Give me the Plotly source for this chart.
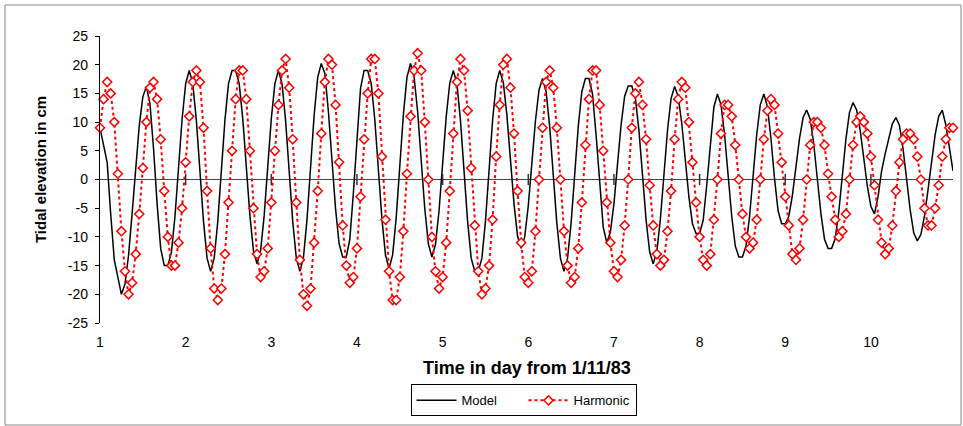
import plotly.graph_objects as go

# Hourly samples starting at day 1 (1/11/83 00:00)
harmonic = [
    9, 14, 17, 15, 10, 1, -9, -16, -20, -18, -13, -6, 2, 10, 16, 17, 14, 7, -2, -10, -15, -15, -11, -5, 3, 11,
    17, 19, 17, 9, -2, -12, -19, -21, -19, -13, -4, 5, 14, 19, 19, 14, 5, -5, -13, -17, -16, -12, -4, 5,
    13, 19, 21, 16, 7, -4, -14, -20, -22, -19, -11, -2, 8, 17, 21, 20, 13, 3, -8, -15, -18, -17, -12, -3,
    7, 15, 21, 21, 15, 4, -7, -16, -21, -21, -17, -9, 1, 11, 19, 22, 19, 10, 0, -10, -16, -19, -17, -11,
    -2, 8, 17, 21, 19, 12, 2, -8, -16, -20, -19, -15, -7, 4, 13, 20, 21, 16, 8, -2, -11, -17, -18, -16,
    -9, 0, 9, 17, 19, 16, 9, 0, -9, -15, -18, -17, -12, -4, 6, 14, 19, 19, 13, 5, -4, -11, -16, -17,
    -14, -8, 0, 9, 15, 17, 13, 7, -1, -8, -13, -15, -14, -9, -2, 7, 14, 17, 16, 10, 3, -4, -10, -14,
    -15, -13, -7, 0, 8, 13, 13, 11, 6, 0, -6, -10, -12, -11, -7, 0, 7, 12, 14, 13, 8, 3, -3, -8,
    -13, -14, -12, -7, 0, 6, 10, 10, 9, 6, 1, -3, -7, -10, -9, -6, 0, 6, 10, 11, 10, 8, 4, -1,
    -7, -11, -13, -12, -8, -2, 3, 7, 8, 8, 7, 4, 0, -5, -8, -8, -5, -1, 4, 7, 9, 9,
]

model = [
    9, 6, 3, -6, -14, -17, -20, -18.2, -13.2, -5.9, 2.1, 9.4, 14.4, 16.2, 13.2, 5.4, -4.2, -12, -15, -15, -12.7, -6.5, 2, 10.5, 16.7, 19,
    16.7, 10.3, 1.5, -7.3, -13.7, -16, -13.7, -7.3, 1.5, 10.3, 16.7, 19, 19, 16.7, 10.6, 2.15, -6.3, -12.4, -14.7, -12.4, -6.3, 2.15, 10.6, 16.7,
    19, 16.7, 10.3, 1.5, -7.3, -13.7, -16, -13.6, -7.0, 2.1, 11.2, 17.8, 20.2, 18.5, 11.8, 3.35, -5.1, -11.2, -13.5, -13.5, -10.4, -2.3, 7.8, 15.9,
    19, 19, 16.7, 10.4, 1.75, -6.9, -13.2, -15.5, -13.1, -6.6, 2.35, 11.3, 17.8, 20.2, 17.9, 11.8, 3.35, -5.1, -11.2, -13.5, -11.3, -5.4, 2.75, 10.9,
    16.8, 19, 16.7, 10.3, 1.5, -7.3, -13.7, -16, -16, -13.7, -7.3, 1.5, 10.3, 16.7, 19, 16.9, 11.25, 3.5, -4.25, -9.9, -12, -10, -4.6, 2.8,
    10.2, 15.6, 17.6, 15.3, 9.2, 0.8, -7.6, -13.7, -16, -13.7, -7.6, 0.8, 9.2, 15.3, 17.6, 17.6, 14.9, 7.7, -1.1, -8.3, -11, -9.2, -4.2, 2.65,
    9.5, 14.5, 16.3, 16.3, 14.2, 8.6, 0.8, -7, -12.6, -14.7, -12.6, -7, 0.75, 8.5, 14.1, 16.2, 14.5, 9.8, 3.4, -3, -7.7, -9.4, -9.4, -7.1,
    -1, 6.5, 12.6, 14.9, 13, 7.8, 0.7, -6.4, -11.6, -13.5, -13.5, -11.6, -6.4, 0.7, 7.8, 13, 14.9, 12.7, 7.1, 0.1, -5.5, -7.7, -7.7, -6.4,
    -2.75, 2.2, 7.15, 10.8, 12.1, 10.5, 6.1, 0.05, -6, -10.4, -12, -12, -10.3, -5.65, 0.7, 7.05, 11.7, 13.4, 12.1, 8.55, 3.7, -1.15, -4.7, -6,
    -3, 1.5, 4.5, 7, 9.7, 10.8, 9.4, 5.4, 0.05, -5.3, -9.3, -10.7, -9.6, -6.4, -1.8, 3.2, 7.8, 11, 12.1, 9.5, 5.5, 1.5,
]

days = [1 + i / 24 for i in range(len(harmonic))]

x_ticks = [1, 2, 3, 4, 5, 6, 7, 8, 9, 10]
y_ticks = [-25, -20, -15, -10, -5, 0, 5, 10, 15, 20, 25]

FONT = "Liberation Sans"

fig = go.Figure()

fig.add_trace(go.Scatter(
    x=days, y=model, mode="lines", name="Model",
    line=dict(color="black", width=1.5), cliponaxis=False,
))
fig.add_trace(go.Scatter(
    x=days, y=harmonic, mode="lines+markers", name="Harmonic",
    line=dict(color="red", width=2, dash="dot"),
    marker=dict(symbol="diamond", size=7, color="white", line=dict(color="red", width=1.5)),
    cliponaxis=False,
))
# cross tick marks on the zero line (category axis crossing at 0)
fig.add_trace(go.Scatter(
    x=x_ticks[1:], y=[0] * len(x_ticks[1:]), mode="markers", showlegend=False, hoverinfo="skip",
    marker=dict(symbol="line-ns", size=8, line=dict(color="#333", width=1.5)),
    cliponaxis=False,
))

fig.update_layout(
    width=963, height=426,
    margin=dict(l=100, r=10, t=36, b=103, autoexpand=False),
    paper_bgcolor="white", plot_bgcolor="white",
    font=dict(family=FONT, color="black", size=14),
    xaxis=dict(
        range=[1, 1 + 239 / 24], tickvals=x_ticks, ticktext=[str(v) for v in x_ticks],
        showgrid=False, zeroline=False, showline=False,
        ticks="outside", ticklen=6, tickcolor="rgba(0,0,0,0)",
        tickfont=dict(family=FONT, size=14, color="black"), automargin=False,
    ),
    yaxis=dict(
        range=[-25, 25], tickvals=y_ticks, ticktext=[str(v) for v in y_ticks],
        showgrid=False, showline=True, linecolor="black", linewidth=1.3,
        zeroline=True, zerolinecolor="#444", zerolinewidth=1.3,
        ticks="outside", ticklen=4, tickwidth=1.3, tickcolor="black",
        tickfont=dict(family=FONT, size=14, color="black"), ticklabelstandoff=4,
        automargin=False,
    ),
    yaxis2=dict(
        overlaying="y", side="left", range=[-25, 25], tickvals=y_ticks,
        showticklabels=False, showgrid=False, zeroline=False, showline=False,
        ticks="inside", ticklen=5, tickwidth=1.3, tickcolor="black", automargin=False,
    ),
    legend=dict(
        orientation="h", x=0.4965, xanchor="center", y=-0.214, yanchor="top",
        bordercolor="black", borderwidth=1, font=dict(family=FONT, size=13, color="black"),
        bgcolor="white", itemwidth=40, entrywidth=57, entrywidthmode="pixels",
    ),
    showlegend=True,
    shapes=[dict(
        type="rect", xref="paper", yref="paper",
        x0=-0.1114, x1=1.0094, y0=-0.3554, y1=1.108,
        line=dict(color="#888", width=1), layer="below",
    )],
    annotations=[
        dict(text="<b>Time in day from 1/11/83</b>", xref="paper", yref="paper",
             x=0.5, y=-0.1568, xanchor="center", yanchor="middle", showarrow=False,
             font=dict(family=FONT, size=18, color="black")),
        dict(text="<b>Tidal elevation in cm</b>", xref="paper", yref="paper",
             x=-0.0703, y=0.533, xanchor="center", yanchor="middle", textangle=-90,
             showarrow=False, font=dict(family=FONT, size=15, color="black")),
    ],
)

fig.write_html(
    "out.html",
    config={"displayModeBar": False},
    post_script="document.body.style.margin='0';document.body.style.padding='0';",
)
